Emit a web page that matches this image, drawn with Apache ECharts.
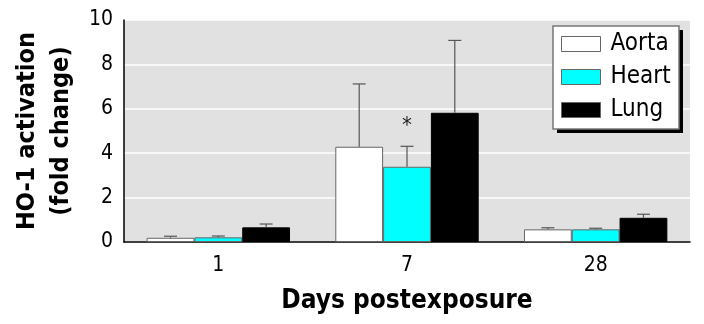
<!DOCTYPE html>
<html><head><meta charset="utf-8">
<script src="https://cdn.jsdelivr.net/npm/echarts@6/dist/echarts.min.js"></script>
<style>html,body{margin:0;padding:0;background:#fff}#c{width:704px;height:324px}</style>
</head><body><div id="c"></div>
<script>
const categories = ['1', '7', '28'];
const seriesNames = ['Aorta', 'Heart', 'Lung'];
const aorta = [0.19, 4.29, 0.57];
const heart = [0.21, 3.39, 0.57];
const lung = [0.66, 5.82, 1.09];
const aortaErr = [0.26, 7.12, 0.64];
const heartErr = [0.27, 4.31, 0.62];
const lungErr = [0.81, 9.08, 1.25];
const heartMarks = ['', '*', ''];
const yTicks = [0, 2, 4, 6, 8, 10];

const FONT = "'DejaVu Sans Condensed', 'Liberation Sans Narrow', sans-serif";
const GAP = 0.24;
const chart = echarts.init(document.getElementById('c'));

function errSeries(name, vals, errs, idx, marks) {
  return {
    type: 'custom', name: name + ' err', silent: true, z: 5,
    data: vals.map((v, i) => [i, v, errs[i]]),
    renderItem: function (params, api) {
      const catW = api.size([1, 0])[0];
      const bw = catW * (1 - GAP) / 3;
      const c = api.coord([api.value(0), api.value(1)]);
      const t = api.coord([api.value(0), api.value(2)]);
      const x = c[0] + (idx - 1) * bw;
      const children = [
        { type: 'line', shape: { x1: x, y1: c[1], x2: x, y2: t[1] }, style: { stroke: '#555', lineWidth: 1.2 } },
        { type: 'line', shape: { x1: x - 6.5, y1: t[1], x2: x + 6.5, y2: t[1] }, style: { stroke: '#555', lineWidth: 1.2 } }
      ];
      const m = marks ? marks[params.dataIndex] : '';
      if (m) {
        children.push({ type: 'text', style: { text: m, x: x, y: t[1] - 20, align: 'center', verticalAlign: 'middle', fontSize: 22, fontFamily: FONT, fill: '#222' } });
      }
      return { type: 'group', children: children };
    }
  };
}

chart.setOption({
  animation: false,
  grid: { left: 124, right: 14, top: 20, bottom: 82, show: true, backgroundColor: '#e1e1e1', borderWidth: 0, containLabel: false, outerBoundsMode: 'none' },
  graphic: [
    { type: 'rect', z: 10, shape: { x: 557, y: 30, width: 126, height: 103 }, style: { fill: '#000' } },
    { type: 'rect', z: 11, shape: { x: 553, y: 26, width: 126, height: 103 }, style: { fill: '#fff', stroke: '#777', lineWidth: 1.5 } }
  ],
  legend: {
    data: seriesNames, orient: 'vertical', left: 561, top: 32, z: 20,
    icon: 'rect', itemWidth: 39, itemHeight: 15, itemGap: 9, padding: 0,
    textStyle: { fontSize: 24, fontFamily: FONT, color: '#000', padding: [0, 0, 0, 5] },
    itemStyle: { borderColor: '#666', borderWidth: 1 }
  },
  xAxis: {
    type: 'category', data: categories,
    axisLine: { lineStyle: { color: '#000', width: 1.5 } },
    axisTick: { show: false },
    axisLabel: { fontSize: 21, fontFamily: FONT, color: '#000', margin: 13 },
    name: 'Days postexposure', nameLocation: 'middle', nameGap: 46,
    nameTextStyle: { fontSize: 26, fontWeight: 'bold', fontFamily: FONT, color: '#000', verticalAlign: 'top' }
  },
  yAxis: {
    type: 'value', min: 0, max: 10, interval: 2,
    axisLine: { show: true, lineStyle: { color: '#000', width: 1.5 } },
    axisTick: { show: false },
    splitLine: { show: true, lineStyle: { color: '#fff', width: 1.5 } },
    axisLabel: { fontSize: 21, fontFamily: FONT, color: '#000', margin: 11,
      formatter: v => yTicks.includes(v) ? String(v) : '' },
    name: 'HO-1 activation\n(fold change)', nameLocation: 'middle', nameGap: 45, nameRotate: 90,
    nameTextStyle: { fontSize: 25, fontWeight: 'bold', fontFamily: FONT, color: '#000', lineHeight: 34 }
  },
  series: [
    { type: 'bar', name: 'Aorta', data: aorta, barGap: 0, barCategoryGap: (GAP * 100) + '%',
      itemStyle: { color: '#fff', borderColor: '#666', borderWidth: 1 } },
    { type: 'bar', name: 'Heart', data: heart, barGap: 0, barCategoryGap: (GAP * 100) + '%',
      itemStyle: { color: '#00ffff', borderColor: '#666', borderWidth: 1 } },
    { type: 'bar', name: 'Lung', data: lung, barGap: 0, barCategoryGap: (GAP * 100) + '%',
      itemStyle: { color: '#000', borderColor: '#000', borderWidth: 1 } },
    errSeries('Aorta', aorta, aortaErr, 0),
    errSeries('Heart', heart, heartErr, 1, heartMarks),
    errSeries('Lung', lung, lungErr, 2)
  ]
});
</script></body></html>
